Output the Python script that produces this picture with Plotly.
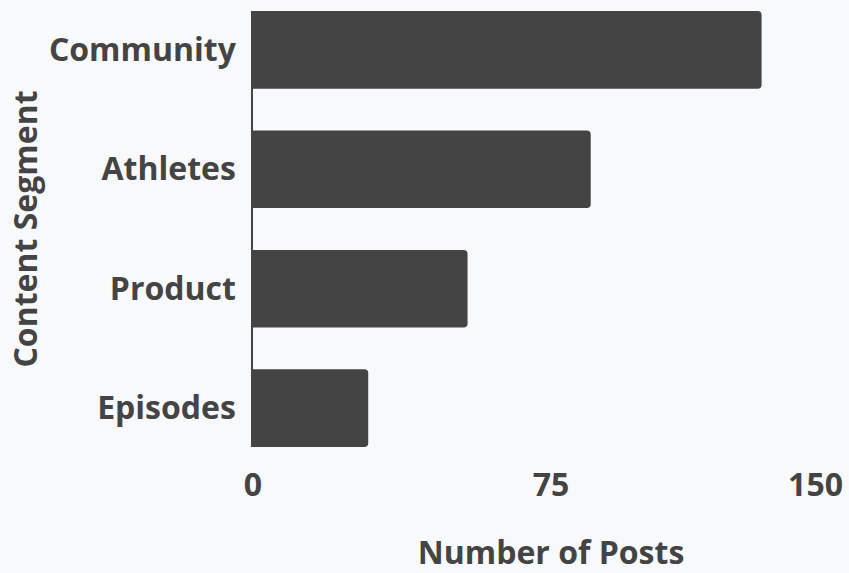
import plotly.graph_objects as go

# Data
segments = ["Community", "Athletes", "Product", "Episodes"]
posts = [128, 85, 54, 29]
x_ticks = [0, 75, 150]
x_tick_labels = ["0", "75", "150"]

BG = "#f8f9fb"
INK = "#444444"
FONT = dict(family="Open Sans", size=32, color=INK, weight="bold")

fig = go.Figure()
fig.add_trace(
    go.Bar(
        x=posts,
        y=segments,
        orientation="h",
        width=0.65,
        marker=dict(color=INK, line=dict(width=0)),
        hoverinfo="skip",
    )
)
# empty trace so the second (label-only) x axis gets drawn
fig.add_trace(go.Scatter(x=[], y=[], xaxis="x2", yaxis="y", hoverinfo="skip"))

fig.update_layout(
    width=849,
    height=573,
    paper_bgcolor=BG,
    plot_bgcolor=BG,
    font=FONT,
    margin=dict(l=253, r=0, t=11, b=126, pad=0),
    barcornerradius=4,
    showlegend=False,
    xaxis=dict(
        range=[0, x_ticks[-1]],
        tickmode="array",
        tickvals=x_ticks[:-1],
        ticktext=x_tick_labels[:-1],
        showgrid=False,
        zeroline=False,
        showline=False,
        ticks="",
        tickfont=FONT,
        ticklabelstandoff=16,
        automargin=True,
        title=dict(text="Number of Posts", font=FONT, standoff=42),
    ),
    xaxis2=dict(
        matches="x",
        overlaying="x",
        anchor="y",
        side="bottom",
        tickmode="array",
        tickvals=x_ticks[-1:],
        ticktext=x_tick_labels[-1:],
        ticklabelposition="outside left",
        ticklabelshift=-6,
        showgrid=False,
        zeroline=False,
        showline=False,
        ticks="",
        tickfont=FONT,
        ticklabelstandoff=16,
        automargin=False,
    ),
    yaxis=dict(
        range=[len(segments) - 1 + 0.325, -0.325],
        showgrid=False,
        zeroline=False,
        showline=True,
        linecolor=INK,
        linewidth=1.5,
        ticks="",
        tickfont=FONT,
        ticklabelstandoff=9,
        automargin=True,
        title=dict(text="Content Segment", font=FONT, standoff=2),
    ),
)

fig.write_html(
    "out.html",
    config={"displayModeBar": False},
    post_script="document.body.style.margin='0';document.body.style.overflow='hidden';",
)
